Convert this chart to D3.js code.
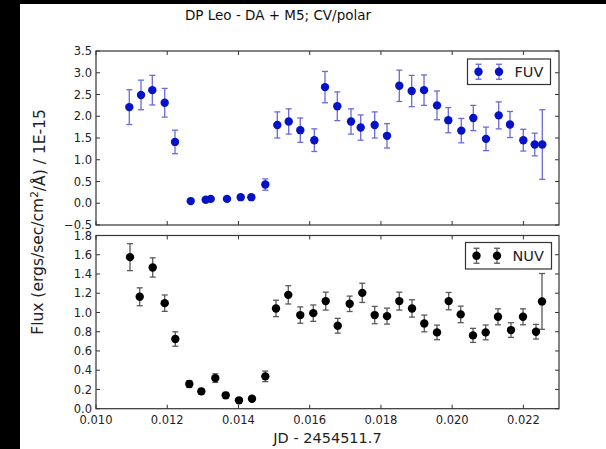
<!DOCTYPE html>
<html><head><meta charset="utf-8">
<script src="https://cdn.jsdelivr.net/npm/d3@7"></script>
<style>html,body{margin:0;background:#fff;overflow:hidden;}svg{display:block;}text{font-family:"DejaVu Sans",sans-serif;}</style>
</head><body>
<script>
const fuvTime=[0.010935,0.011264,0.011581,0.011929,0.012218,0.012659,0.013080,0.013221,0.013678,0.014063,0.014361,0.014754,0.015091,0.015411,0.015736,0.016130,0.016430,0.016775,0.017160,0.017432,0.017825,0.018171,0.018516,0.018864,0.019210,0.019575,0.019892,0.020257,0.020594,0.020950,0.021307,0.021624,0.021998,0.022318,0.022531];
const fuvFlux=[2.21,2.49,2.60,2.31,1.41,0.05,0.08,0.10,0.10,0.14,0.14,0.43,1.80,1.88,1.68,1.45,2.67,2.23,1.88,1.74,1.80,1.55,2.70,2.58,2.60,2.25,1.91,1.67,1.96,1.48,2.02,1.81,1.45,1.35,1.35];
const fuvErr=[0.40,0.34,0.34,0.33,0.27,0.03,0.03,0.03,0.03,0.04,0.04,0.13,0.30,0.29,0.28,0.26,0.36,0.33,0.29,0.29,0.30,0.28,0.36,0.36,0.35,0.33,0.29,0.28,0.29,0.27,0.31,0.30,0.25,0.26,0.80];
const nuvTime=[0.010955,0.011227,0.011592,0.011929,0.012227,0.012620,0.012957,0.013350,0.013642,0.014015,0.014380,0.014754,0.015054,0.015399,0.015736,0.016101,0.016450,0.016787,0.017123,0.017477,0.017825,0.018171,0.018516,0.018873,0.019218,0.019575,0.019903,0.020240,0.020585,0.020942,0.021287,0.021652,0.021989,0.022354,0.022523];
const nuvFlux=[1.575,1.163,1.468,1.097,0.724,0.256,0.180,0.318,0.139,0.087,0.104,0.336,1.042,1.183,0.973,0.993,1.118,0.862,1.090,1.204,0.973,0.962,1.118,1.042,0.886,0.793,1.118,0.980,0.762,0.793,0.955,0.817,0.955,0.800,1.115];
const nuvErr=[0.14,0.093,0.10,0.085,0.075,0.035,0.03,0.045,0.03,0.025,0.025,0.055,0.085,0.095,0.085,0.085,0.093,0.077,0.08,0.10,0.09,0.083,0.093,0.09,0.087,0.076,0.09,0.086,0.073,0.077,0.083,0.076,0.083,0.076,0.29];
const xTicks=[0.010,0.012,0.014,0.016,0.018,0.020,0.022];
const fuvTicks=[-0.5,0.0,0.5,1.0,1.5,2.0,2.5,3.0,3.5];
const nuvTicks=[0.0,0.2,0.4,0.6,0.8,1.0,1.2,1.4,1.6,1.8];
const titleText="DP Leo - DA + M5; CV/polar";
const xLabel="JD - 2454511.7";

const W=606,H=449;
const svg=d3.select("body").append("svg").attr("width",W).attr("height",H);
svg.append("rect").attr("x",0).attr("y",0).attr("width",W).attr("height",H).attr("fill","#fff");
svg.append("rect").attr("x",0).attr("y",0).attr("width",20).attr("height",H).attr("fill","#000");
svg.append("rect").attr("x",0).attr("y",0).attr("width",W).attr("height",4).attr("fill","#000");

const L=96,R=559;
const x=d3.scaleLinear().domain([0.010,0.023]).range([L,R]);
const panels=[
 {name:"FUV",t:fuvTime,v:fuvFlux,e:fuvErr,ticks:fuvTicks,dom:[-0.5,3.5],top:51,bot:225,mc:"#0612c8",ec:"#6a6ad8",fmt:d=>d3.format(".1f")(d).replace("-","\u2212"),leg:[467.5,59,83,25.5],showX:false},
 {name:"NUV",t:nuvTime,v:nuvFlux,e:nuvErr,ticks:nuvTicks,dom:[0,1.8],top:235.5,bot:408.7,mc:"#000",ec:"#5a5a5a",fmt:d3.format(".1f"),leg:[465.5,242.5,86,26.5],showX:true}
];
const axisColor="#333";
panels.forEach(p=>{
  const y=d3.scaleLinear().domain(p.dom).range([p.bot,p.top]);
  const g=svg.append("g");
  const tl=4;
  g.selectAll(".xtb").data(xTicks).join("line").attr("class","xtb").attr("x1",d=>x(d)).attr("x2",d=>x(d)).attr("y1",p.bot).attr("y2",p.bot-tl).attr("stroke",axisColor);
  g.selectAll(".xtt").data(xTicks).join("line").attr("class","xtt").attr("x1",d=>x(d)).attr("x2",d=>x(d)).attr("y1",p.top).attr("y2",p.top+tl).attr("stroke",axisColor);
  g.selectAll(".ytl").data(p.ticks).join("line").attr("class","ytl").attr("x1",L).attr("x2",L+tl).attr("y1",d=>y(d)).attr("y2",d=>y(d)).attr("stroke",axisColor);
  g.selectAll(".ytr").data(p.ticks).join("line").attr("class","ytr").attr("x1",R).attr("x2",R-tl).attr("y1",d=>y(d)).attr("y2",d=>y(d)).attr("stroke",axisColor);
  g.selectAll(".ylab").data(p.ticks).join("text").attr("class","ylab").attr("x",L-4).attr("y",d=>y(d)).attr("dy","0.36em")
   .attr("text-anchor","end").attr("font-size","11.5px").attr("fill","#222").text(p.fmt);
  if(p.showX){
    g.selectAll(".xlab").data(xTicks).join("text").attr("class","xlab").attr("x",d=>x(d)).attr("y",p.bot+15)
     .attr("text-anchor","middle").attr("font-size","11.5px").attr("fill","#222").text(d3.format(".3f"));
  }
  const data=p.t.map((t,i)=>({t,v:p.v[i],e:p.e[i]}));
  const eg=g.append("g").attr("stroke",p.ec).attr("stroke-width",1.3);
  data.forEach(d=>{
    const cx=x(d.t),y1=y(d.v+d.e),y0=y(d.v-d.e);
    eg.append("line").attr("x1",cx).attr("x2",cx).attr("y1",y1).attr("y2",y0);
    eg.append("line").attr("x1",cx-3).attr("x2",cx+3).attr("y1",y1).attr("y2",y1);
    eg.append("line").attr("x1",cx-3).attr("x2",cx+3).attr("y1",y0).attr("y2",y0);
  });
  g.selectAll(".pt").data(data).join("circle").attr("class","pt").attr("cx",d=>x(d.t)).attr("cy",d=>y(d.v)).attr("r",4.2).attr("fill",p.mc);
  g.append("rect").attr("x",L).attr("y",p.top).attr("width",R-L).attr("height",p.bot-p.top).attr("fill","none").attr("stroke",axisColor).attr("stroke-width",1.2);
  const [lx,ly,lw,lh]=p.leg;
  const lg=g.append("g");
  lg.append("rect").attr("x",lx).attr("y",ly).attr("width",lw).attr("height",lh).attr("fill","#fff").attr("stroke",axisColor).attr("stroke-width",1.2);
  const my=ly+lh/2;
  [lx+11,lx+31.5].forEach(mx=>{
    lg.append("line").attr("x1",mx).attr("x2",mx).attr("y1",my-7.5).attr("y2",my+7.5).attr("stroke",p.ec).attr("stroke-width",1.3);
    lg.append("line").attr("x1",mx-3).attr("x2",mx+3).attr("y1",my-7.5).attr("y2",my-7.5).attr("stroke",p.ec).attr("stroke-width",1.3);
    lg.append("line").attr("x1",mx-3).attr("x2",mx+3).attr("y1",my+7.5).attr("y2",my+7.5).attr("stroke",p.ec).attr("stroke-width",1.3);
    lg.append("circle").attr("cx",mx).attr("cy",my).attr("r",4.2).attr("fill",p.mc);
  });
  lg.append("text").attr("x",lx+47).attr("y",my).attr("dy","0.36em").attr("font-size","14.5px").attr("fill","#222").text(p.name);
});

svg.append("text").attr("x",278).attr("y",20).attr("text-anchor","middle").attr("font-size","13.5px").attr("fill","#111").text(titleText);
svg.append("text").attr("x",(L+R)/2).attr("y",443).attr("text-anchor","middle").attr("font-size","14.5px").attr("fill","#222").text(xLabel);
const yl=svg.append("text").attr("transform","translate(43,222) rotate(-90)").attr("text-anchor","middle").attr("font-size","15.5px").attr("fill","#222");
yl.append("tspan").text("Flux (ergs/sec/cm");
yl.append("tspan").attr("dy","-0.45em").attr("font-size","10.5px").text("2");
yl.append("tspan").attr("dy","0.45em").text("/Å) / 1E-15");
</script>
</body></html>
